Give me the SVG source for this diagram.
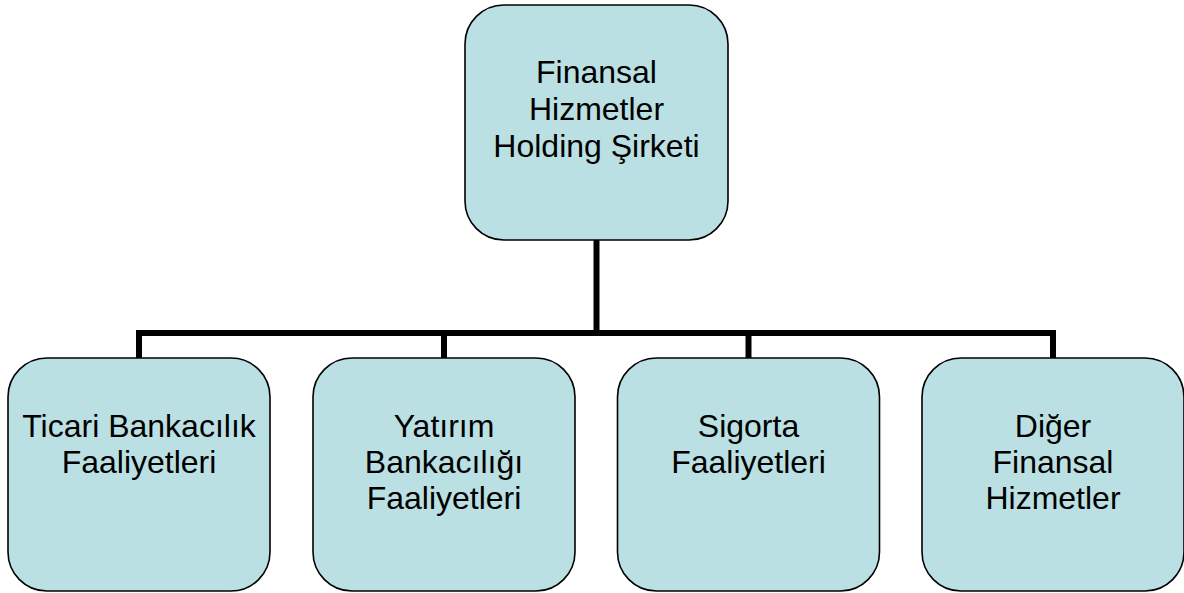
<svg xmlns="http://www.w3.org/2000/svg" width="1184" height="593" viewBox="0 0 1184 593">
<style>
.box{fill:#bbe0e3;stroke:#000;stroke-width:1.6}
.t{font-family:"Liberation Sans",Arial,sans-serif;font-size:32px;fill:#000;text-anchor:middle}
.c{fill:none;stroke:#000;stroke-width:6;stroke-linejoin:miter;stroke-linecap:butt}
</style>
<rect width="1184" height="593" fill="#fff"/>
<g id="connectors">
<path class="c" d="M596.5 240 V333"/>
<path class="c" d="M139 358 V333 H1053 V358"/>
<path class="c" d="M444 333 V358"/>
<path class="c" d="M748.5 333 V358"/>
</g>
<g id="n0">
<rect class="box" x="465" y="5" width="263" height="235" rx="39"/>
<text class="t" x="596.5" y="83.3">Finansal</text>
<text class="t" x="596.5" y="120">Hizmetler</text>
<text class="t" x="596.5" y="156.7">Holding Şirketi</text>
</g>
<g id="n1">
<rect class="box" x="8" y="358" width="262" height="233" rx="39"/>
<text class="t" x="139" y="436.5">Ticari Bankacılık</text>
<text class="t" x="139" y="472.5">Faaliyetleri</text>
</g>
<g id="n2">
<rect class="box" x="313" y="358" width="262" height="233" rx="39"/>
<text class="t" x="444" y="436.5">Yatırım</text>
<text class="t" x="444" y="472.5">Bankacılığı</text>
<text class="t" x="444" y="508.5">Faaliyetleri</text>
</g>
<g id="n3">
<rect class="box" x="617.5" y="358" width="262" height="233" rx="39"/>
<text class="t" x="748.5" y="436.5">Sigorta</text>
<text class="t" x="748.5" y="472.5">Faaliyetleri</text>
</g>
<g id="n4">
<rect class="box" x="922" y="358" width="262" height="233" rx="39"/>
<text class="t" x="1053" y="436.5">Diğer</text>
<text class="t" x="1053" y="472.5">Finansal</text>
<text class="t" x="1053" y="508.5">Hizmetler</text>
</g>
</svg>
